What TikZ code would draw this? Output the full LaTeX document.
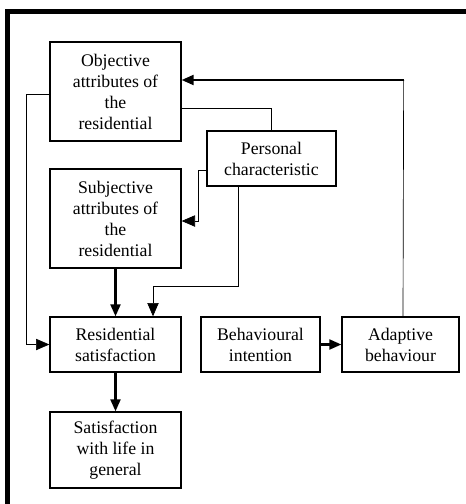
\documentclass[tikz,border=0pt]{standalone}
\usepackage{fontspec}
\setmainfont{Liberation Serif}
\usepackage{tikz}
\usetikzlibrary{arrows.meta, positioning, calc}

\begin{document}
\begin{tikzpicture}[
    x=0.75pt,y=-0.75pt,
    >={Triangle[length=9pt,width=7.5pt]},
    font=\fontsize{13.3}{15.75}\selectfont,
    box/.style={
        draw, line width=1pt,
        minimum width=98.25pt,
        align=center,
        inner sep=2pt
    },
    thinline/.style={line width=0.5pt},
    thinsig/.style={-{Triangle[length=10pt,width=8.5pt]}, line width=0.5pt},
    sig/.style={->, line width=1.6pt},
    frame/.style={line width=3.75pt}
]
\useasboundingbox (0,0) rectangle (466,504);

% --- Frame (top and left only) ---
\draw[frame] (7.5,504) -- (7.5,11.5) -- (466,11.5);

% --- Boxes at fixed coordinates ---
\node[box, minimum height=74.25pt] (obj) at (115.5,91.5)
{Objective\\attributes of\\the\\residential};

\node[box, minimum width=96.75pt, minimum height=41.25pt] (pers) at (271.5,158.5)
{Personal\\characteristic};

\node[box, minimum height=74.25pt] (subj) at (115.5,218.5)
{Subjective\\attributes of\\the\\residential};

\node[box, minimum height=41.25pt] (ressat) at (115.5,344.5)
{Residential\\satisfaction};

\node[box, minimum width=89.25pt, minimum height=41.25pt] (behav) at (260.5,344.5)
{Behavioural\\intention};

\node[box, minimum width=87.75pt, minimum height=41.25pt] (adapt) at (400.5,344.5)
{Adaptive\\behaviour};

\node[box, minimum height=57pt] (life) at (115.5,450)
{Satisfaction\\with life in\\general};

% --- Links from objective attributes ---
\draw[thinsig] ($(obj.west)+(0,2.5)$) -- ++(-23,0) |- (ressat.west);
\draw[thinline] ($(obj.east)+(0,16.5)$) -| (pers.north);

% --- Links from personal characteristic ---
\draw[thinsig] ($(pers.west)+(0,11.5)$) -- ++(-8,0) |- ($(subj.east)+(0,2.5)$);
\draw[thinsig] ($(pers.south)+(-33.5,0)$) |- ($(ressat.north)+(37.5,-30)$)
    -- ($(ressat.north)+(37.5,0)$);

% --- Main path ---
\draw[sig] (subj.south) -- (ressat.north);
\draw[sig] (ressat.south) -- (life.north);
\draw[sig] (behav.east) -- (adapt.west);

% --- Feedback path ---
\coordinate (fb) at ($(obj.east)+(222,-11.5)$);
\draw[thinline] ($(adapt.north)+(2.5,0)$) -- (fb);
\draw[sig] (fb) -- ($(obj.east)+(0,-11.5)$);

\end{tikzpicture}
\end{document}
